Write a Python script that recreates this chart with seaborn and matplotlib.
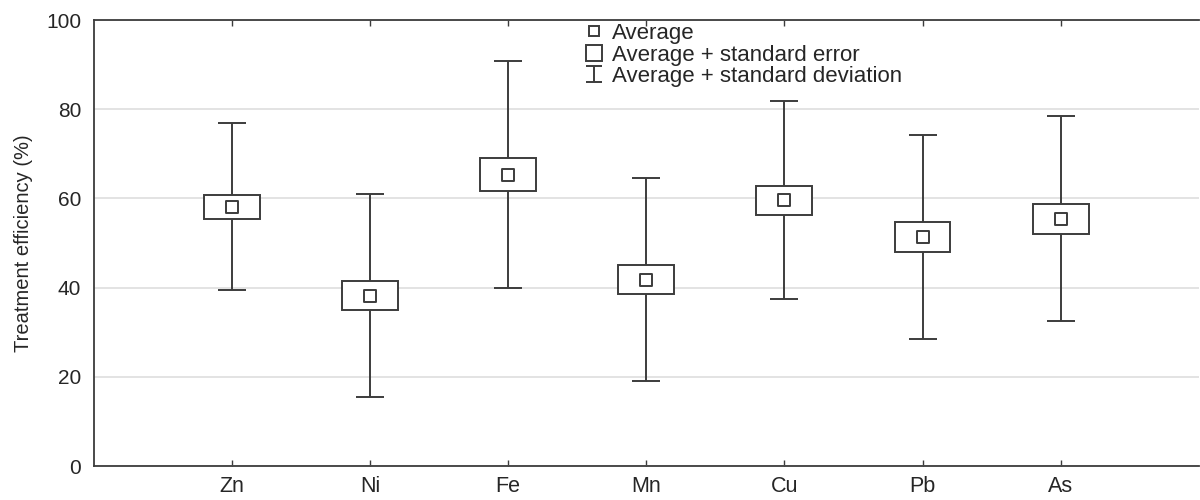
import numpy as np
import pandas as pd
import matplotlib
matplotlib.use('Agg')
import matplotlib.pyplot as plt
from matplotlib.lines import Line2D
from matplotlib.path import Path
import seaborn as sns

# data
metals = ['Zn', 'Ni', 'Fe', 'Mn', 'Cu', 'Pb', 'As']
average = [58.1, 38.2, 65.3, 41.8, 59.6, 51.3, 55.4]
std_error = [2.65, 3.25, 3.7, 3.3, 3.25, 3.3, 3.35]
std_dev = [18.7, 22.75, 25.5, 22.7, 22.15, 22.9, 23.0]

sns.set_theme(style='white')
plt.rcParams['font.family'] = ['Liberation Sans', 'DejaVu Sans']

df = pd.DataFrame({'metal': metals, 'avg': average, 'se': std_error, 'sd': std_dev})
df['x'] = np.arange(len(df))

line_col = '#3c3c3c'
lw = 1.4

fig, ax = plt.subplots(figsize=(12, 5), dpi=100)
fig.subplots_adjust(left=0.078, right=0.999, top=0.96, bottom=0.068)

# grid
ax.set_ylim(0, 100)
ax.set_yticks([0, 20, 40, 60, 80, 100])
ax.grid(axis='y', color='#dedede', linewidth=1.2)
ax.set_axisbelow(True)

# whiskers = average +/- standard deviation
ax.errorbar(df['x'], df['avg'], yerr=df['sd'], fmt='none', ecolor=line_col,
            elinewidth=lw, capsize=10, capthick=lw, zorder=2)

# boxes = average +/- standard error
ax.bar(df['x'], 2 * df['se'], bottom=df['avg'] - df['se'], width=0.405,
       color='white', edgecolor=line_col, linewidth=lw, zorder=3)

# average marker
sns.scatterplot(data=df, x='x', y='avg', marker='s', s=70, color='white',
                edgecolor=line_col, linewidth=lw, ax=ax, zorder=4, legend=False)

ax.set_xlim(-1, 7)
ax.set_xticks(df['x'])
ax.set_xticklabels(metals, fontsize=15.5)
ax.tick_params(axis='x', direction='in', length=4, width=1, color=line_col,
               top=True, bottom=True, pad=7)
ax.tick_params(axis='y', labelsize=15, length=0, pad=9)
ax.set_xlabel('')
ax.set_ylabel('Treatment efficiency (%)', fontsize=14.5, labelpad=9)

for side in ['left', 'bottom', 'top']:
    ax.spines[side].set_color(line_col)
    ax.spines[side].set_linewidth(1.3)
ax.spines['right'].set_visible(False)

# legend with custom symbols
ibeam = Path([(-0.45, 0.5), (0.45, 0.5), (0, 0.5), (0, -0.5), (-0.45, -0.5), (0.45, -0.5)],
             [Path.MOVETO, Path.LINETO, Path.MOVETO, Path.LINETO, Path.MOVETO, Path.LINETO])
handles = [
    Line2D([], [], linestyle='none', marker='s', markersize=7, markerfacecolor='white',
           markeredgecolor=line_col, markeredgewidth=lw),
    Line2D([], [], linestyle='none', marker='s', markersize=11.5, markerfacecolor='white',
           markeredgecolor=line_col, markeredgewidth=lw),
    Line2D([], [], linestyle='none', marker=ibeam, markersize=12, markerfacecolor='none',
           markeredgecolor=line_col, markeredgewidth=lw),
]
labels = ['Average', 'Average + standard error', 'Average + standard deviation']
ax.legend(handles, labels, loc='upper left', bbox_to_anchor=(0.445, 0.993), frameon=False,
          fontsize=16, handlelength=0.8, handletextpad=0.4, labelspacing=0.02,
          borderpad=0, borderaxespad=0)

plt.savefig('out.png', dpi=100)
